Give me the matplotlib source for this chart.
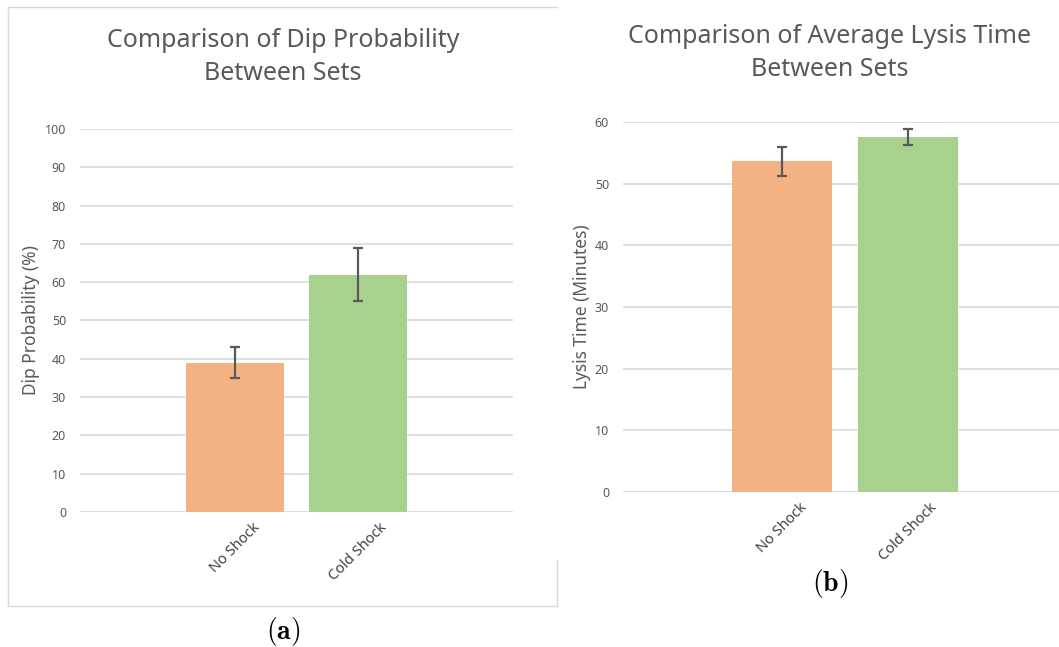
import numpy as np
import matplotlib.pyplot as plt
from matplotlib.lines import Line2D

plt.rcParams['font.family'] = ['Noto Sans', 'DejaVu Sans']
plt.rcParams['mathtext.fontset'] = 'cm'

# data
categories = ['No Shock', 'Cold Shock']
dip_prob = [39, 62]
dip_err = [4, 7]
lysis_time = [53.6, 57.5]
lysis_err = [2.35, 1.3]
bar_colors = ['#F4B183', '#A9D18E']

TEXT = '#595959'
GRID = '#D9D9D9'


def excel_bar(ax, values, errors, ymax, step, ylabel, xlim, label_x):
    x = np.arange(len(values))
    ax.bar(x, values, width=0.79, color=bar_colors, zorder=3)
    ax.errorbar(x, values, yerr=errors, fmt='none', ecolor='#595959',
                elinewidth=1.6, capsize=3.5, capthick=1.6, zorder=4)
    ax.set_ylim(0, ymax)
    ax.set_xlim(*xlim)
    ax.set_yticks(np.arange(0, ymax + 1, step))
    ax.yaxis.grid(True, color=GRID, linewidth=1.2, zorder=0)
    ax.set_axisbelow(True)
    for s in ax.spines.values():
        s.set_visible(False)
    ax.tick_params(axis='both', length=0, colors=TEXT, labelsize=9)
    ax.tick_params(axis='y', pad=10)
    ax.tick_params(axis='x', pad=6)
    ax.set_xticks(x)
    ax.set_xticklabels(categories, rotation=45, ha='center', fontsize=10.5,
                       color='#404040')
    ax.set_ylabel(ylabel, color=TEXT, fontsize=12.5)
    ax.yaxis.set_label_coords(label_x, 0.5)


fig = plt.figure(figsize=(10.59, 6.47), dpi=100)

# panel (a)
ax1 = fig.add_axes([0.0755, 0.2087, 0.4089, 0.5919])
excel_bar(ax1, dip_prob, dip_err, 100, 10, 'Dip Probability (%)',
          (-1.26, 2.26), -0.092)
fig.text(283 / 1059, 1 - 57 / 647, 'Comparison of Dip Probability\nBetween Sets',
         ha='center', va='center', fontsize=18, color=TEXT, linespacing=1.4)
fig.text(283 / 1059, 1 - 632 / 647, r'$\mathbf{(a)}$', ha='center', va='center',
         fontsize=20, color='black')

# border around panel (a)
bx0, bx1 = 8 / 1059, 557 / 1059
by0, by1 = 1 - 606 / 647, 1 - 7 / 647
for xs, ys in [((bx0, bx1), (by1, by1)), ((bx0, bx0), (by0, by1)),
               ((bx0, bx1), (by0, by0)), ((bx1, bx1), (by0, 1 - 560 / 647))]:
    fig.add_artist(Line2D(xs, ys, color='#D9D9D9', linewidth=1.0))

# panel (b)
ax2 = fig.add_axes([0.5883, 0.2396, 0.4117, 0.5719])
excel_bar(ax2, lysis_time, lysis_err, 60, 10, 'Lysis Time (Minutes)',
          (-1.26, 2.2), -0.073)
fig.text(830 / 1059, 1 - 53 / 647, 'Comparison of Average Lysis Time\nBetween Sets',
         ha='center', va='center', fontsize=18, color=TEXT, linespacing=1.4)
fig.text(830 / 1059, 1 - 584 / 647, r'$\mathbf{(b)}$', ha='center', va='center',
         fontsize=20, color='black')

fig.savefig('out.png', dpi=100)
